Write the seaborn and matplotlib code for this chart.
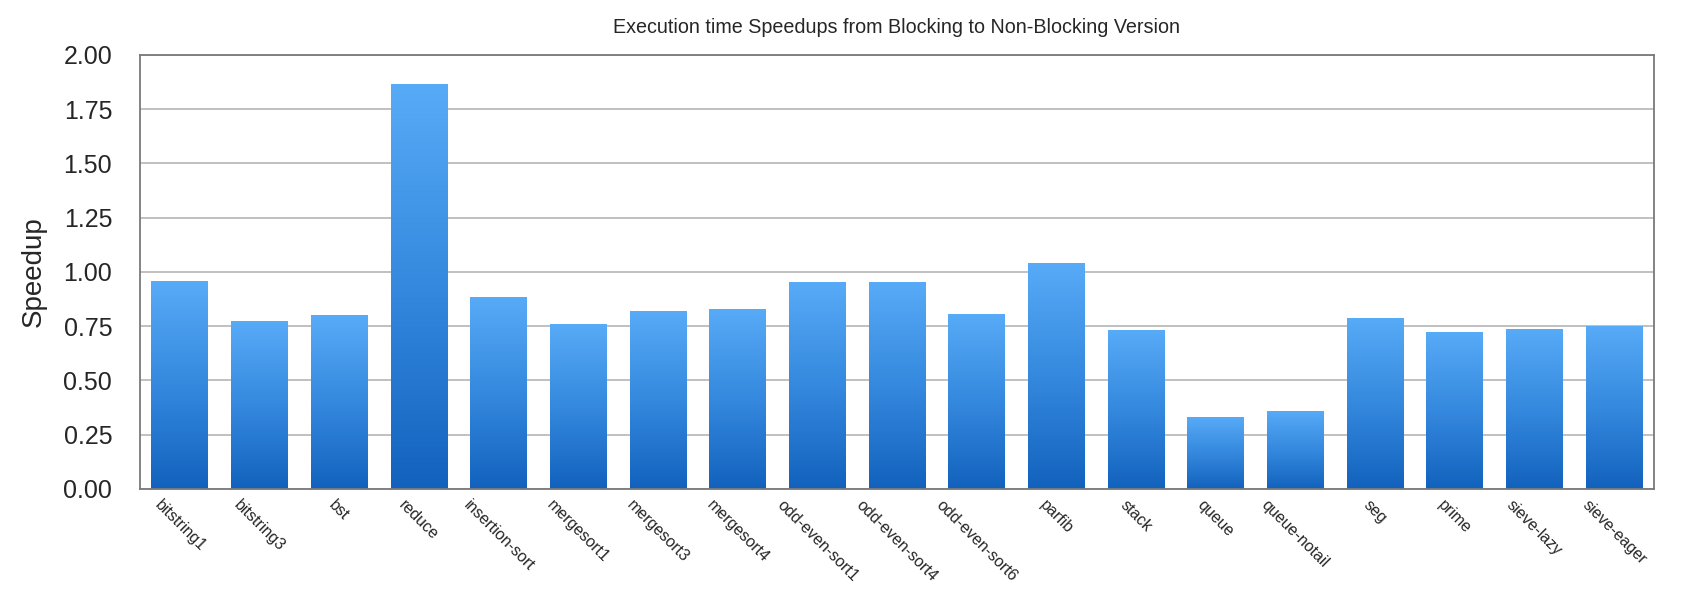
import numpy as np
import pandas as pd
import matplotlib
matplotlib.use('Agg')
import matplotlib.pyplot as plt
from matplotlib.colors import LinearSegmentedColormap
import seaborn as sns

# Benchmarks and speedups
benchmarks = ['bitstring1', 'bitstring3', 'bst', 'reduce', 'insertion-sort',
              'mergesort1', 'mergesort3', 'mergesort4', 'odd-even-sort1',
              'odd-even-sort4', 'odd-even-sort6', 'parfib', 'stack', 'queue',
              'queue-notail', 'seg', 'prime', 'sieve-lazy', 'sieve-eager']
speedups = [0.96, 0.776, 0.80, 1.868, 0.886,
            0.762, 0.822, 0.831, 0.955,
            0.955, 0.808, 1.043, 0.734, 0.333,
            0.361, 0.789, 0.725, 0.738, 0.752]
yticks = [0.0, 0.25, 0.5, 0.75, 1.0, 1.25, 1.5, 1.75, 2.0]

df = pd.DataFrame({'benchmark': benchmarks, 'speedup': speedups})

sns.set_style('white')
plt.rcParams['font.family'] = ['Liberation Sans', 'DejaVu Sans']

fig = plt.figure(figsize=(16.98, 5.91), dpi=100)
ax = fig.add_axes([0.0824, 0.1726, 0.8916, 0.7344])

sns.barplot(x='benchmark', y='speedup', data=df, color='#3a8ee6',
            width=0.71, ax=ax, zorder=2)

# Vertical gradient for each bar (light on top, dark at bottom)
grad_cmap = LinearSegmentedColormap.from_list('blu', ['#1262bd', '#3589de', '#58abf7'])
grad = np.linspace(0, 1, 256).reshape(-1, 1)
for patch in ax.patches:
    x0 = patch.get_x()
    w = patch.get_width()
    h = patch.get_height()
    im = ax.imshow(grad, cmap=grad_cmap, origin='lower', aspect='auto',
                   extent=[x0, x0 + w, 0, h], zorder=2.5)
    im.set_clip_path(patch)
    patch.set_facecolor('none')
    patch.set_edgecolor('none')

ax.set_xlim(-0.5, len(benchmarks) - 0.5)
ax.set_ylim(0, 2.0)
ax.set_yticks(yticks)
ax.set_yticklabels([f'{t:.2f}' for t in yticks], fontsize=18)
ax.yaxis.grid(True, color='#b5b5b5', linewidth=1.2)
ax.set_axisbelow(True)
ax.tick_params(axis='both', length=0)
ax.tick_params(axis='y', pad=20)

# Rotated labels, centred under each bar
ax.set_xticks(range(len(benchmarks)))
ax.set_xticklabels(benchmarks, rotation=-45, ha='center', va='top',
                   fontsize=11.5)
ax.tick_params(axis='x', pad=6)

for side in ['top', 'bottom', 'left', 'right']:
    ax.spines[side].set_visible(True)
    ax.spines[side].set_color('#7a7a7a')
    ax.spines[side].set_linewidth(1.3)

ax.set_xlabel('')
ax.set_ylabel('Speedup', fontsize=20, labelpad=12)
ax.set_title('Execution time Speedups from Blocking to Non-Blocking Version',
             fontsize=14.2, pad=16)

fig.savefig('out.png', dpi=100)
